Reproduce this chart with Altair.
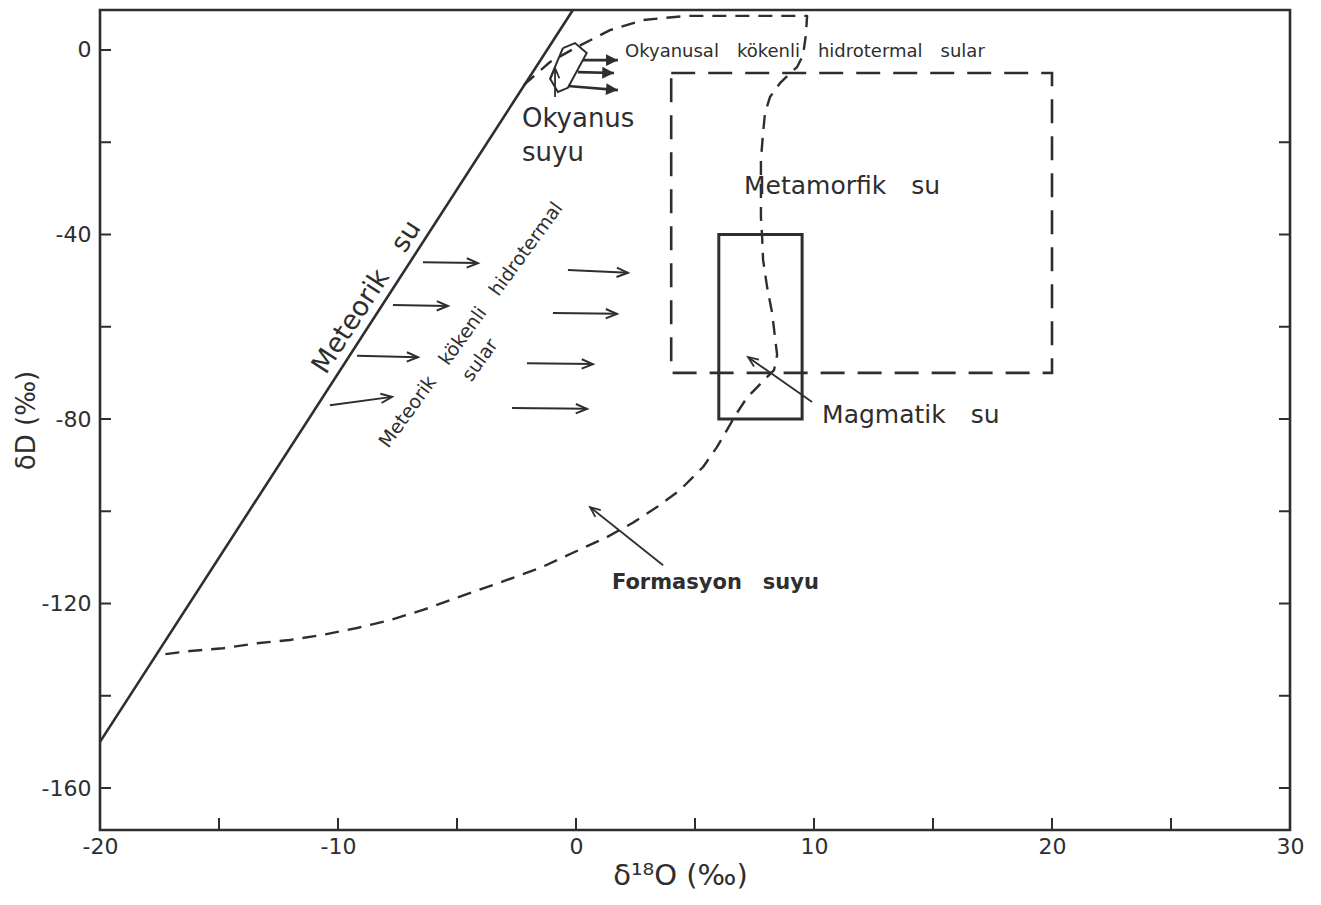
import math
import altair as alt
import pandas as pd

INK = "#2e2e2e"
FONT = "DejaVu Sans"
W, H = 1190, 820
SP = "\u2003"  # wide word gap, as in the lettered original

# ---- axes ----
x_domain = [-20, 30]
y_domain = [-169.1, 8.67]
x_label_values = [-20, -10, 0, 10, 20, 30]
x_tick_values = [-15, -10, -5, 0, 5, 10, 15, 20, 25]
y_label_values = [0, -40, -80, -120, -160]
y_left_ticks = [0, -20, -40, -60, -80, -100, -120, -140, -160]
y_right_ticks = [-20, -40, -60, -80, -100, -120, -140, -160]

# ---- meteoric water line (endpoints) ----
mwl_o18 = [-20.0, -0.13]
mwl_d = [-150.0, 8.67]

# ---- formation / ocean-origin hydrothermal water envelope (dashed) ----
form_o18 = [-2.2, -1.09, 0.04, 1.43, 2.82, 4.66, 9.71, 9.66, 9.54, 9.29, 9.0, 8.57,
            8.15, 7.94, 7.86, 7.77, 7.77, 7.77, 7.82, 7.86, 8.03, 8.24, 8.36, 8.45,
            8.32, 7.82, 7.18, 6.76, 6.34, 5.92, 5.34, 4.37, 3.40, 2.39, 1.30, -0.13,
            -1.51, -2.9, -4.33, -5.3, -6.43, -7.82, -9.2, -10.63, -12.02, -13.4,
            -14.83, -16.2, -17.6]
form_d = [-7.6, -2.6, 0.65, 4.3, 6.5, 7.4, 7.4, 3.3, -1.1, -3.7, -5.0, -7.2,
          -10.2, -13.7, -18.0, -23.8, -31.0, -36.2, -40.5, -45.5, -51.4, -57.0, -62.2, -66.1,
          -69.4, -72.0, -75.4, -78.7, -82.4, -86.1, -90.4, -95.4, -99.1, -102.5, -105.6, -109.0,
          -112.3, -114.9, -117.5, -119.3, -121.4, -123.6, -125.3, -126.8, -127.9, -128.6,
          -129.7, -130.3, -131.2]

# ---- ocean water hexagon ----
ocean_o18 = [-0.55, -0.04, 0.45, -0.34, -0.76, -1.09, -0.55]
ocean_d = [0.4, 1.5, -0.65, -8.2, -9.1, -6.2, 0.4]

# ---- boxes ----
meta_o18 = [4.0, 20.0]
meta_d = [-70.0, -5.0]
magma_o18 = [6.0, 9.5]
magma_d = [-80.0, -40.0]

# ---- arrows ----
met_x0 = [-6.43, -7.69, -9.2, -10.34, -0.34, -0.97, -2.06, -2.69]
met_y0 = [-46.0, -55.3, -66.3, -77.0, -47.7, -57.0, -67.9, -77.6]
met_x1 = [-4.12, -5.38, -6.64, -7.73, 2.18, 1.72, 0.71, 0.46]
met_y1 = [-46.2, -55.5, -66.6, -75.2, -48.3, -57.2, -68.1, -77.8]

oc_x0 = [0.29, 0.08, -0.34]
oc_y0 = [-2.2, -4.8, -7.8]
oc_x1 = [1.76, 1.6, 1.76]
oc_y1 = [-2.2, -5.0, -8.7]

ptr_x0 = [9.92, 3.66, -0.88]
ptr_y0 = [-76.3, -111.7, -10.2]
ptr_x1 = [7.23, 0.59, -0.88]
ptr_y1 = [-66.6, -99.1, -3.9]

# ---- labels ----
ocean_lbl = ["Okyanus", "suyu"]
ocean_lbl_x = [-2.27, -2.27]
ocean_lbl_y = [-14.9, -22.3]

big_lbl = ["Metamorfik" + SP + "su"]
big_lbl_x = [11.18]
big_lbl_y = [-29.5]

mag_lbl = ["Magmatik" + SP + "su"]
mag_lbl_x = [10.34]
mag_lbl_y = [-79.1]

form_lbl = ["Formasyon" + SP + "suyu"]
form_lbl_x = [1.51]
form_lbl_y = [-115.6]

okh_lbl = [SP.join(["Okyanusal", "kökenli", "hidrotermal", "sular"])]
okh_lbl_x = [2.06]
okh_lbl_y = [-0.43]

mwl_lbl = ["Meteorik" + SP + "su"]
mwl_lbl_x = [-8.78]
mwl_lbl_y = [-53.6]

mkh_lbl = [SP.join(["Meteorik", "kökenli", "hidrotermal"]), "sular"]
mkh_lbl_x = [-4.41, -4.03]
mkh_lbl_y = [-59.6, -67.2]

xs = alt.Scale(domain=x_domain, nice=False, zero=False)
ys = alt.Scale(domain=y_domain, nice=False, zero=False)

X_AXIS = alt.Axis(
    values=x_label_values, ticks=False, domain=False, grid=False,
    labelExpr="'' + datum.value", labelFlush=False, labelFontSize=22, labelFont=FONT,
    labelColor=INK, labelPadding=6, title="δ¹⁸O (‰)", titleFont=FONT,
    titleFontSize=29, titleFontWeight="normal", titleColor=INK, titlePadding=4,
    titleX=580)
Y_AXIS = alt.Axis(
    values=y_label_values, ticks=False, domain=False, grid=False,
    labelExpr="'' + datum.value", labelFontSize=22, labelFont=FONT,
    labelColor=INK, labelPadding=9, title="δD (‰)", titleFont=FONT,
    titleFontSize=26, titleFontWeight="normal", titleColor=INK, titlePadding=2)


def X(f, **kw):
    return alt.X(f, scale=xs, axis=X_AXIS, **kw)


def Y(f, **kw):
    return alt.Y(f, scale=ys, axis=Y_AXIS, **kw)


mwl = pd.DataFrame({"o18": mwl_o18, "d": mwl_d})
mwl_layer = alt.Chart(mwl).mark_line(color=INK, strokeWidth=2.6).encode(
    x=X("o18:Q"), y=Y("d:Q"))

# tick marks (inward)
bt = alt.Chart(pd.DataFrame({"o18": x_tick_values})).mark_rule(color=INK, strokeWidth=2).encode(
    x=X("o18:Q"), y=alt.value(H), y2=alt.value(H - 12))
lt = alt.Chart(pd.DataFrame({"d": y_left_ticks})).mark_rule(color=INK, strokeWidth=2).encode(
    y=Y("d:Q"), x=alt.value(0), x2=alt.value(11))
rt = alt.Chart(pd.DataFrame({"d": y_right_ticks})).mark_rule(color=INK, strokeWidth=2).encode(
    y=Y("d:Q"), x=alt.value(W - 11), x2=alt.value(W))

form = pd.DataFrame({"o18": form_o18, "d": form_d, "i": list(range(len(form_o18)))})
form_layer = alt.Chart(form).mark_line(color=INK, strokeWidth=2.4, strokeDash=[14, 9],
                                       strokeJoin="round").encode(
    x=X("o18:Q"), y=Y("d:Q"), order="i:Q")

ocean = pd.DataFrame({"o18": ocean_o18, "d": ocean_d, "i": list(range(len(ocean_o18)))})
ocean_layer = alt.Chart(ocean).mark_line(color=INK, strokeWidth=2).encode(
    x=X("o18:Q"), y=Y("d:Q"), order="i:Q")

meta = pd.DataFrame({"x0": [meta_o18[0]], "x1": [meta_o18[1]], "y0": [meta_d[0]], "y1": [meta_d[1]]})
meta_layer = alt.Chart(meta).mark_rect(fillOpacity=0, stroke=INK, strokeWidth=2.6,
                                       strokeDash=[24, 13]).encode(
    x=X("x0:Q"), x2="x1", y=Y("y0:Q"), y2="y1")

magma = pd.DataFrame({"x0": [magma_o18[0]], "x1": [magma_o18[1]], "y0": [magma_d[0]], "y1": [magma_d[1]]})
magma_layer = alt.Chart(magma).mark_rect(fillOpacity=0, stroke=INK, strokeWidth=3).encode(
    x=X("x0:Q"), x2="x1", y=Y("y0:Q"), y2="y1")

PPX = W / (x_domain[1] - x_domain[0])
PPY = H / (y_domain[1] - y_domain[0])


def arrows(x0, y0, x1, y1, width, path, size, filled):
    df = pd.DataFrame({"x0": x0, "y0": y0, "x1": x1, "y1": y1})
    df["ang"] = [math.degrees(math.atan2(-(b1 - b0) * PPY, (a1 - a0) * PPX)) % 360
                 for a0, b0, a1, b1 in zip(x0, y0, x1, y1)]
    shaft = alt.Chart(df).mark_rule(color=INK, strokeWidth=width).encode(
        x=X("x0:Q"), x2="x1", y=Y("y0:Q"), y2="y1")
    head = alt.Chart(df).mark_point(shape=path, size=size, filled=filled, color=INK,
                                    strokeWidth=width, opacity=1).encode(
        x=X("x1:Q"), y=Y("y1:Q"), angle=alt.Angle("ang:Q", scale=None))
    return shaft + head


OPEN_HEAD = "M-1,-0.42L0,0L-1,0.42"
FILLED_HEAD = "M-1,-0.5L0,0L-1,0.5Z"

met_arrows = arrows(met_x0, met_y0, met_x1, met_y1, 2, OPEN_HEAD, 500, False)
oc_arrows = arrows(oc_x0, oc_y0, oc_x1, oc_y1, 2.6, FILLED_HEAD, 560, True)
ptr_arrows = arrows(ptr_x0, ptr_y0, ptr_x1, ptr_y1, 1.8, OPEN_HEAD, 420, False)


def text_layer(tx, ty, tt, size, angle=0, align="left", weight="normal"):
    df = pd.DataFrame({"o18": tx, "d": ty, "t": tt})
    return alt.Chart(df).mark_text(font=FONT, fontSize=size, angle=angle, align=align,
                                   baseline="middle", color=INK, fontWeight=weight).encode(
        x=X("o18:Q"), y=Y("d:Q"), text="t:N")


labels = [
    text_layer(ocean_lbl_x, ocean_lbl_y, ocean_lbl, 26),
    text_layer(big_lbl_x, big_lbl_y, big_lbl, 25, align="center"),
    text_layer(mag_lbl_x, mag_lbl_y, mag_lbl, 25),
    text_layer(form_lbl_x, form_lbl_y, form_lbl, 21, weight="bold"),
    text_layer(okh_lbl_x, okh_lbl_y, okh_lbl, 18),
    text_layer(mwl_lbl_x, mwl_lbl_y, mwl_lbl, 27, angle=303, align="center"),
    text_layer(mkh_lbl_x, mkh_lbl_y, mkh_lbl, 19, angle=306, align="center"),
]

chart = alt.layer(
    mwl_layer, bt, lt, rt, form_layer, ocean_layer, meta_layer, magma_layer,
    met_arrows, oc_arrows, ptr_arrows, *labels
).properties(
    width=W, height=H,
    autosize=alt.AutoSizeParams(type="none"),
    padding={"left": 92, "top": 2, "right": 20, "bottom": 70},
    background="white",
).configure_view(stroke=INK, strokeWidth=2.6)

chart.save("out.html", embed_options={"renderer": "svg", "actions": False})
